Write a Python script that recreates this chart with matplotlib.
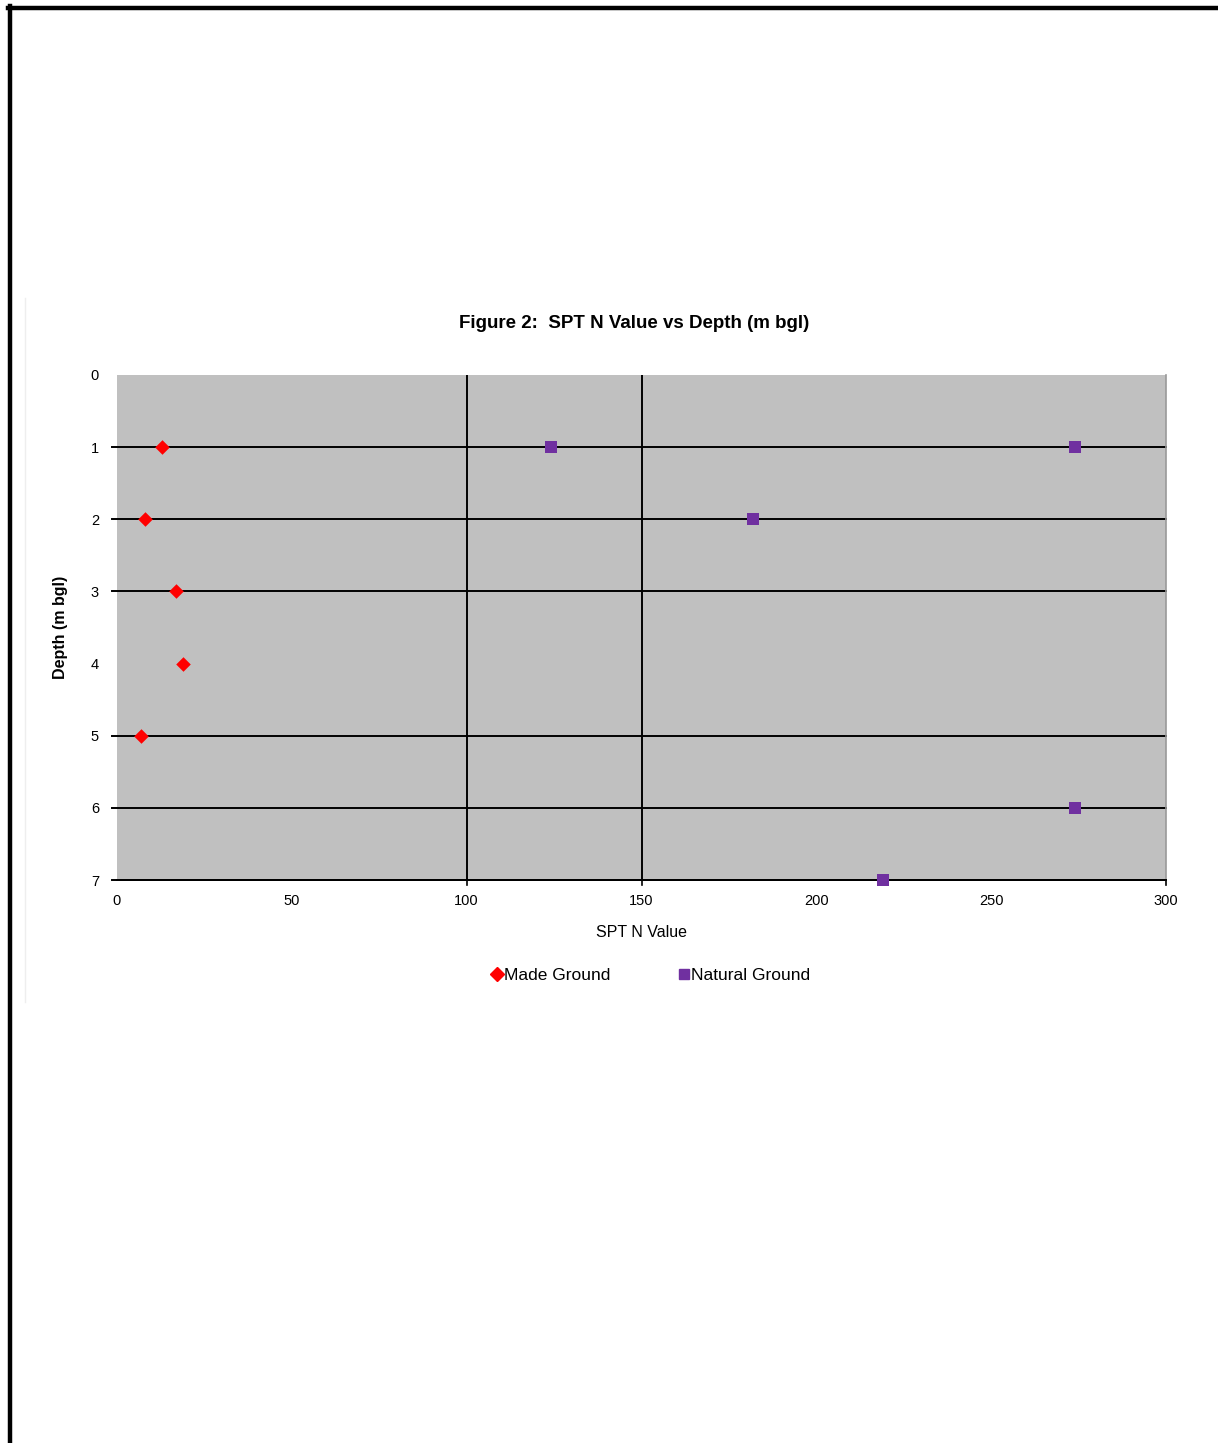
import matplotlib
matplotlib.use("Agg")
import matplotlib.pyplot as plt
from matplotlib.lines import Line2D

plt.rcParams['font.family'] = ['Liberation Sans', 'DejaVu Sans']

# Data
made_n = [13, 8, 17, 19, 7]
made_depth = [1, 2, 3, 4, 5]
natural_n = [124, 274, 182, 274, 219]
natural_depth = [1, 1, 2, 6, 7]
x_ticks = [0, 50, 100, 150, 200, 250, 300]
y_ticks = [0, 1, 2, 3, 4, 5, 6, 7]
h_grid = [1, 2, 3, 5, 6, 7]
v_grid = [100, 150]
x_tick_marks = [100, 150, 300]

W, H = 1218, 1443
fig = plt.figure(figsize=(W / 100, H / 100), dpi=100)
fig.patch.set_facecolor('white')

# page border (top and left)
fig.add_artist(Line2D([8 / W, 1], [1 - 8 / H, 1 - 8 / H], color='black', lw=3.2,
                      transform=fig.transFigure))
fig.add_artist(Line2D([10 / W, 10 / W], [0, 1 - 6 / H], color='black', lw=3.2,
                      transform=fig.transFigure))
# faint chart-area edge
fig.add_artist(Line2D([25 / W, 25 / W], [1 - 1002 / H, 1 - 298 / H], color='#eeeeee', lw=1,
                      transform=fig.transFigure))

left, right, top, bottom = 117, 1166, 375, 880
aw, ah = right - left, bottom - top
ax = fig.add_axes([left / W, 1 - bottom / H, aw / W, ah / H])
ax.set_facecolor('#C0C0C0')
ax.set_xlim(0, 300)
ax.set_ylim(7, 0)

tick_px = 5
for y in h_grid:
    ax.axhline(y, xmin=-tick_px / aw, xmax=1, color='black', lw=1.4, zorder=1, clip_on=False)
for x in v_grid:
    ax.axvline(x, color='black', lw=1.4, zorder=1)
for x in x_tick_marks:
    ax.axvline(x, ymin=-tick_px / ah, ymax=0, color='black', lw=1.2, zorder=1, clip_on=False)

ax.scatter(made_n, made_depth, marker='D', s=55, color='#FF0000', zorder=3,
           label='Made Ground', linewidths=0, clip_on=False)
ax.scatter(natural_n, natural_depth, marker='s', s=80, color='#7030A0', zorder=3,
           label='Natural Ground', linewidths=0, clip_on=False)

ax.set_xticks(x_ticks)
ax.set_yticks(y_ticks)
ax.tick_params(axis='both', which='major', labelsize=10.5, length=0)
ax.tick_params(axis='y', which='major', pad=13)
ax.tick_params(axis='x', which='major', pad=10)

for s in ['top', 'left']:
    ax.spines[s].set_visible(False)
ax.spines['right'].set_color('#999999')
ax.spines['right'].set_linewidth(1.2)
ax.spines['bottom'].set_color('black')
ax.spines['bottom'].set_linewidth(1.4)

ax.set_xlabel('SPT N Value', fontsize=11.5, labelpad=12)
ax.set_ylabel('Depth (m bgl)', fontsize=11.5, fontweight='bold', labelpad=16)

fig.text(634 / W, 1 - 324 / H, 'Figure 2:  SPT N Value vs Depth (m bgl)', ha='center',
         va='center', fontsize=13.5, fontweight='bold')

handles = [
    Line2D([], [], marker='D', color='#FF0000', linestyle='none', markersize=7),
    Line2D([], [], marker='s', color='#7030A0', linestyle='none', markersize=7.5),
]
fig.legend(handles, ['Made Ground', 'Natural Ground'], loc='center',
           bbox_to_anchor=(651 / W, 1 - 975 / H), ncol=2, frameon=False,
           fontsize=12.5, handlelength=0.5, handletextpad=0.15, columnspacing=4.0)

fig.savefig('out.png', dpi=100, facecolor='white')
